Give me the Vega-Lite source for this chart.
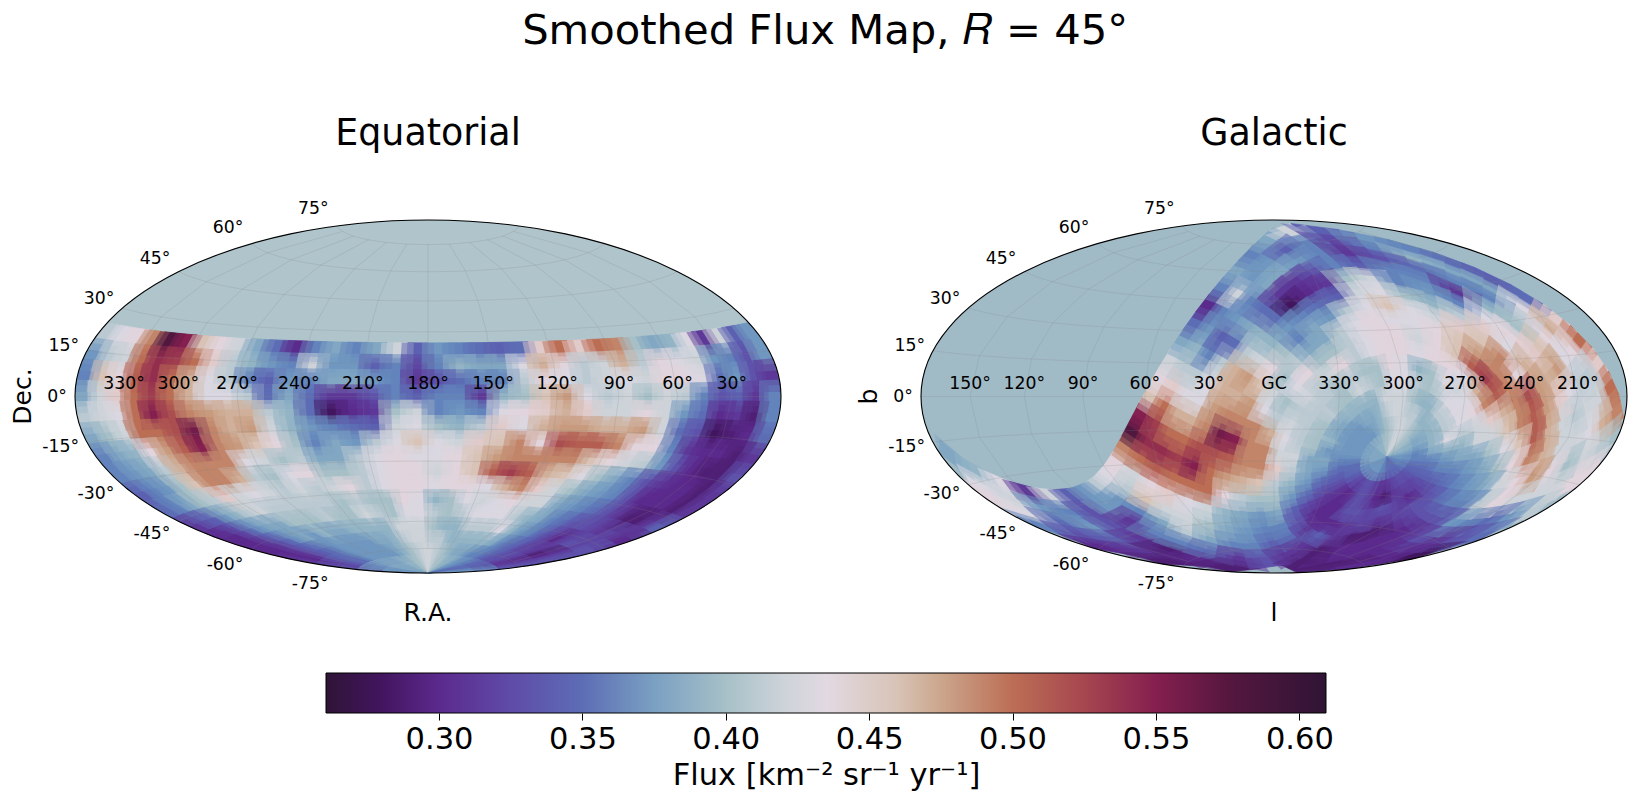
{"$schema":"https://vega.github.io/schema/vega-lite/v6.json","autosize":{"type":"none"},"padding":{"left":75,"top":220,"right":1561,"bottom":586},"config":{"font":"DejaVu Sans","view":{"stroke":null},"title":{"font":"DejaVu Sans","fontWeight":"normal","color":"#000"}},"title":{"text":"Smoothed Flux Map, 𝑅 = 45°","fontSize":41.7,"anchor":"middle","offset":63,"dx":5},
"datasets":{"frame":[{"lon":0,"lat":0}],"par":[{"lat":75},{"lat":60},{"lat":45},{"lat":30},{"lat":15},{"lat":0},{"lat":-15},{"lat":-30},{"lat":-45},{"lat":-60},{"lat":-75}],"mer":[{"lon":-150},{"lon":-120},{"lon":-90},{"lon":-60},{"lon":-30},{"lon":0},{"lon":30},{"lon":60},{"lon":90},{"lon":120},{"lon":150}],
"latlab":[{"lat":75,"label":"75°"},{"lat":60,"label":"60°"},{"lat":45,"label":"45°"},{"lat":30,"label":"30°"},{"lat":15,"label":"15°"},{"lat":0,"label":"0°"},{"lat":-15,"label":"-15°"},{"lat":-30,"label":"-30°"},{"lat":-45,"label":"-45°"},{"lat":-60,"label":"-60°"},{"lat":-75,"label":"-75°"}],
"raLab":[{"lam":150,"label":"330°"},{"lam":120,"label":"300°"},{"lam":90,"label":"270°"},{"lam":60,"label":"240°"},{"lam":30,"label":"210°"},{"lam":0,"label":"180°"},{"lam":-30,"label":"150°"},{"lam":-60,"label":"120°"},{"lam":-90,"label":"90°"},{"lam":-120,"label":"60°"},{"lam":-150,"label":"30°"}],
"lLab":[{"lam":150,"label":"150°"},{"lam":120,"label":"120°"},{"lam":90,"label":"90°"},{"lam":60,"label":"60°"},{"lam":30,"label":"30°"},{"lam":0,"label":"GC"},{"lam":-30,"label":"330°"},{"lam":-60,"label":"300°"},{"lam":-90,"label":"270°"},{"lam":-120,"label":"240°"},{"lam":-150,"label":"210°"}],
"cells":[
{"ra":355,"dec":21,"flux":0.41},{"ra":345,"dec":21,"flux":0.43},{"ra":335,"dec":21,"flux":0.44},{"ra":325,"dec":21,"flux":0.49},{"ra":315,"dec":21,"flux":0.58},{"ra":305,"dec":21,"flux":0.55},{"ra":295,"dec":21,"flux":0.46},{"ra":285,"dec":21,"flux":0.44},{"ra":275,"dec":21,"flux":0.42},{"ra":265,"dec":21,"flux":0.38},{"ra":255,"dec":21,"flux":0.35},{"ra":245,"dec":21,"flux":0.3},{"ra":235,"dec":21,"flux":0.36},{"ra":225,"dec":21,"flux":0.38},{"ra":215,"dec":21,"flux":0.36},{"ra":205,"dec":21,"flux":0.38},{"ra":195,"dec":21,"flux":0.42},{"ra":185,"dec":21,"flux":0.34},{"ra":175,"dec":21,"flux":0.37},{"ra":165,"dec":21,"flux":0.36},{"ra":155,"dec":21,"flux":0.35},{"ra":145,"dec":21,"flux":0.34},{"ra":135,"dec":21,"flux":0.35},{"ra":125,"dec":21,"flux":0.45},{"ra":115,"dec":21,"flux":0.5},{"ra":105,"dec":21,"flux":0.45},{"ra":95,"dec":21,"flux":0.5},{"ra":85,"dec":21,"flux":0.49},{"ra":75,"dec":21,"flux":0.4},{"ra":65,"dec":21,"flux":0.38},{"ra":55,"dec":21,"flux":0.39},{"ra":45,"dec":21,"flux":0.43},{"ra":35,"dec":21,"flux":0.31},{"ra":25,"dec":21,"flux":0.42},{"ra":15,"dec":21,"flux":0.34},{"ra":5,"dec":21,"flux":0.37},
{"ra":355,"dec":14,"flux":0.37},{"ra":345,"dec":14,"flux":0.41},{"ra":335,"dec":14,"flux":0.42},{"ra":325,"dec":14,"flux":0.5},{"ra":315,"dec":14,"flux":0.54},{"ra":305,"dec":14,"flux":0.53},{"ra":295,"dec":14,"flux":0.5},{"ra":285,"dec":14,"flux":0.45},{"ra":275,"dec":14,"flux":0.41},{"ra":265,"dec":14,"flux":0.39},{"ra":255,"dec":14,"flux":0.37},{"ra":245,"dec":14,"flux":0.36},{"ra":235,"dec":14,"flux":0.42},{"ra":225,"dec":14,"flux":0.37},{"ra":215,"dec":14,"flux":0.37},{"ra":205,"dec":14,"flux":0.34},{"ra":195,"dec":14,"flux":0.36},{"ra":185,"dec":14,"flux":0.32},{"ra":175,"dec":14,"flux":0.36},{"ra":165,"dec":14,"flux":0.39},{"ra":155,"dec":14,"flux":0.38},{"ra":145,"dec":14,"flux":0.38},{"ra":135,"dec":14,"flux":0.43},{"ra":125,"dec":14,"flux":0.47},{"ra":115,"dec":14,"flux":0.44},{"ra":105,"dec":14,"flux":0.41},{"ra":95,"dec":14,"flux":0.42},{"ra":85,"dec":14,"flux":0.47},{"ra":75,"dec":14,"flux":0.41},{"ra":65,"dec":14,"flux":0.44},{"ra":55,"dec":14,"flux":0.43},{"ra":45,"dec":14,"flux":0.42},{"ra":35,"dec":14,"flux":0.37},{"ra":25,"dec":14,"flux":0.36},{"ra":15,"dec":14,"flux":0.33},{"ra":5,"dec":14,"flux":0.37},
{"ra":355,"dec":7,"flux":0.36},{"ra":345,"dec":7,"flux":0.46},{"ra":335,"dec":7,"flux":0.44},{"ra":325,"dec":7,"flux":0.51},{"ra":315,"dec":7,"flux":0.54},{"ra":305,"dec":7,"flux":0.5},{"ra":295,"dec":7,"flux":0.47},{"ra":285,"dec":7,"flux":0.43},{"ra":275,"dec":7,"flux":0.41},{"ra":265,"dec":7,"flux":0.36},{"ra":255,"dec":7,"flux":0.34},{"ra":245,"dec":7,"flux":0.37},{"ra":235,"dec":7,"flux":0.36},{"ra":225,"dec":7,"flux":0.38},{"ra":215,"dec":7,"flux":0.38},{"ra":205,"dec":7,"flux":0.37},{"ra":195,"dec":7,"flux":0.36},{"ra":185,"dec":7,"flux":0.31},{"ra":175,"dec":7,"flux":0.33},{"ra":165,"dec":7,"flux":0.35},{"ra":155,"dec":7,"flux":0.36},{"ra":145,"dec":7,"flux":0.36},{"ra":135,"dec":7,"flux":0.41},{"ra":125,"dec":7,"flux":0.44},{"ra":115,"dec":7,"flux":0.43},{"ra":105,"dec":7,"flux":0.41},{"ra":95,"dec":7,"flux":0.42},{"ra":85,"dec":7,"flux":0.43},{"ra":75,"dec":7,"flux":0.42},{"ra":65,"dec":7,"flux":0.44},{"ra":55,"dec":7,"flux":0.44},{"ra":45,"dec":7,"flux":0.43},{"ra":35,"dec":7,"flux":0.35},{"ra":25,"dec":7,"flux":0.37},{"ra":15,"dec":7,"flux":0.33},{"ra":5,"dec":7,"flux":0.31},
{"ra":355,"dec":0,"flux":0.38},{"ra":345,"dec":0,"flux":0.42},{"ra":335,"dec":0,"flux":0.45},{"ra":325,"dec":0,"flux":0.5},{"ra":315,"dec":0,"flux":0.53},{"ra":305,"dec":0,"flux":0.5},{"ra":295,"dec":0,"flux":0.47},{"ra":285,"dec":0,"flux":0.43},{"ra":275,"dec":0,"flux":0.43},{"ra":265,"dec":0,"flux":0.41},{"ra":255,"dec":0,"flux":0.35},{"ra":245,"dec":0,"flux":0.38},{"ra":235,"dec":0,"flux":0.35},{"ra":225,"dec":0,"flux":0.31},{"ra":215,"dec":0,"flux":0.31},{"ra":205,"dec":0,"flux":0.33},{"ra":195,"dec":0,"flux":0.36},{"ra":185,"dec":0,"flux":0.34},{"ra":175,"dec":0,"flux":0.36},{"ra":165,"dec":0,"flux":0.36},{"ra":155,"dec":0,"flux":0.31},{"ra":145,"dec":0,"flux":0.39},{"ra":135,"dec":0,"flux":0.4},{"ra":125,"dec":0,"flux":0.46},{"ra":115,"dec":0,"flux":0.48},{"ra":105,"dec":0,"flux":0.43},{"ra":95,"dec":0,"flux":0.41},{"ra":85,"dec":0,"flux":0.42},{"ra":75,"dec":0,"flux":0.4},{"ra":65,"dec":0,"flux":0.42},{"ra":55,"dec":0,"flux":0.41},{"ra":45,"dec":0,"flux":0.36},{"ra":35,"dec":0,"flux":0.33},{"ra":25,"dec":0,"flux":0.34},{"ra":15,"dec":0,"flux":0.31},{"ra":5,"dec":0,"flux":0.36},
{"ra":355,"dec":-7,"flux":0.41},{"ra":345,"dec":-7,"flux":0.42},{"ra":335,"dec":-7,"flux":0.43},{"ra":325,"dec":-7,"flux":0.5},{"ra":315,"dec":-7,"flux":0.55},{"ra":305,"dec":-7,"flux":0.52},{"ra":295,"dec":-7,"flux":0.49},{"ra":285,"dec":-7,"flux":0.48},{"ra":275,"dec":-7,"flux":0.47},{"ra":265,"dec":-7,"flux":0.47},{"ra":255,"dec":-7,"flux":0.41},{"ra":245,"dec":-7,"flux":0.39},{"ra":235,"dec":-7,"flux":0.35},{"ra":225,"dec":-7,"flux":0.28},{"ra":215,"dec":-7,"flux":0.3},{"ra":205,"dec":-7,"flux":0.31},{"ra":195,"dec":-7,"flux":0.4},{"ra":185,"dec":-7,"flux":0.42},{"ra":175,"dec":-7,"flux":0.36},{"ra":165,"dec":-7,"flux":0.37},{"ra":155,"dec":-7,"flux":0.36},{"ra":145,"dec":-7,"flux":0.43},{"ra":135,"dec":-7,"flux":0.44},{"ra":125,"dec":-7,"flux":0.45},{"ra":115,"dec":-7,"flux":0.47},{"ra":105,"dec":-7,"flux":0.45},{"ra":95,"dec":-7,"flux":0.42},{"ra":85,"dec":-7,"flux":0.42},{"ra":75,"dec":-7,"flux":0.44},{"ra":65,"dec":-7,"flux":0.42},{"ra":55,"dec":-7,"flux":0.37},{"ra":45,"dec":-7,"flux":0.35},{"ra":35,"dec":-7,"flux":0.3},{"ra":25,"dec":-7,"flux":0.31},{"ra":15,"dec":-7,"flux":0.29},{"ra":5,"dec":-7,"flux":0.36},
{"ra":355,"dec":-14,"flux":0.38},{"ra":345,"dec":-14,"flux":0.4},{"ra":335,"dec":-14,"flux":0.42},{"ra":325,"dec":-14,"flux":0.5},{"ra":315,"dec":-14,"flux":0.5},{"ra":305,"dec":-14,"flux":0.52},{"ra":295,"dec":-14,"flux":0.56},{"ra":285,"dec":-14,"flux":0.49},{"ra":275,"dec":-14,"flux":0.47},{"ra":265,"dec":-14,"flux":0.48},{"ra":255,"dec":-14,"flux":0.42},{"ra":245,"dec":-14,"flux":0.39},{"ra":235,"dec":-14,"flux":0.37},{"ra":225,"dec":-14,"flux":0.36},{"ra":215,"dec":-14,"flux":0.35},{"ra":205,"dec":-14,"flux":0.34},{"ra":195,"dec":-14,"flux":0.42},{"ra":185,"dec":-14,"flux":0.43},{"ra":175,"dec":-14,"flux":0.4},{"ra":165,"dec":-14,"flux":0.39},{"ra":155,"dec":-14,"flux":0.41},{"ra":145,"dec":-14,"flux":0.45},{"ra":135,"dec":-14,"flux":0.43},{"ra":125,"dec":-14,"flux":0.47},{"ra":115,"dec":-14,"flux":0.48},{"ra":105,"dec":-14,"flux":0.48},{"ra":95,"dec":-14,"flux":0.47},{"ra":85,"dec":-14,"flux":0.47},{"ra":75,"dec":-14,"flux":0.48},{"ra":65,"dec":-14,"flux":0.42},{"ra":55,"dec":-14,"flux":0.35},{"ra":45,"dec":-14,"flux":0.33},{"ra":35,"dec":-14,"flux":0.28},{"ra":25,"dec":-14,"flux":0.29},{"ra":15,"dec":-14,"flux":0.3},{"ra":5,"dec":-14,"flux":0.35},
{"ra":355,"dec":-21,"flux":0.36},{"ra":345,"dec":-21,"flux":0.38},{"ra":335,"dec":-21,"flux":0.39},{"ra":325,"dec":-21,"flux":0.44},{"ra":315,"dec":-21,"flux":0.48},{"ra":305,"dec":-21,"flux":0.51},{"ra":295,"dec":-21,"flux":0.55},{"ra":285,"dec":-21,"flux":0.49},{"ra":275,"dec":-21,"flux":0.48},{"ra":265,"dec":-21,"flux":0.46},{"ra":255,"dec":-21,"flux":0.44},{"ra":245,"dec":-21,"flux":0.4},{"ra":235,"dec":-21,"flux":0.36},{"ra":225,"dec":-21,"flux":0.38},{"ra":215,"dec":-21,"flux":0.37},{"ra":205,"dec":-21,"flux":0.41},{"ra":195,"dec":-21,"flux":0.43},{"ra":185,"dec":-21,"flux":0.46},{"ra":175,"dec":-21,"flux":0.43},{"ra":165,"dec":-21,"flux":0.42},{"ra":155,"dec":-21,"flux":0.45},{"ra":145,"dec":-21,"flux":0.46},{"ra":135,"dec":-21,"flux":0.49},{"ra":125,"dec":-21,"flux":0.44},{"ra":115,"dec":-21,"flux":0.52},{"ra":105,"dec":-21,"flux":0.51},{"ra":95,"dec":-21,"flux":0.51},{"ra":85,"dec":-21,"flux":0.49},{"ra":75,"dec":-21,"flux":0.44},{"ra":65,"dec":-21,"flux":0.44},{"ra":55,"dec":-21,"flux":0.36},{"ra":45,"dec":-21,"flux":0.31},{"ra":35,"dec":-21,"flux":0.3},{"ra":25,"dec":-21,"flux":0.3},{"ra":15,"dec":-21,"flux":0.29},{"ra":5,"dec":-21,"flux":0.31},
{"ra":355,"dec":-28,"flux":0.36},{"ra":345,"dec":-28,"flux":0.37},{"ra":335,"dec":-28,"flux":0.38},{"ra":325,"dec":-28,"flux":0.41},{"ra":315,"dec":-28,"flux":0.47},{"ra":305,"dec":-28,"flux":0.49},{"ra":295,"dec":-28,"flux":0.49},{"ra":285,"dec":-28,"flux":0.49},{"ra":275,"dec":-28,"flux":0.43},{"ra":265,"dec":-28,"flux":0.42},{"ra":255,"dec":-28,"flux":0.4},{"ra":245,"dec":-28,"flux":0.41},{"ra":235,"dec":-28,"flux":0.38},{"ra":225,"dec":-28,"flux":0.38},{"ra":215,"dec":-28,"flux":0.41},{"ra":205,"dec":-28,"flux":0.43},{"ra":195,"dec":-28,"flux":0.44},{"ra":185,"dec":-28,"flux":0.43},{"ra":175,"dec":-28,"flux":0.43},{"ra":165,"dec":-28,"flux":0.44},{"ra":155,"dec":-28,"flux":0.46},{"ra":145,"dec":-28,"flux":0.48},{"ra":135,"dec":-28,"flux":0.49},{"ra":125,"dec":-28,"flux":0.49},{"ra":115,"dec":-28,"flux":0.49},{"ra":105,"dec":-28,"flux":0.49},{"ra":95,"dec":-28,"flux":0.46},{"ra":85,"dec":-28,"flux":0.44},{"ra":75,"dec":-28,"flux":0.42},{"ra":65,"dec":-28,"flux":0.41},{"ra":55,"dec":-28,"flux":0.37},{"ra":45,"dec":-28,"flux":0.33},{"ra":35,"dec":-28,"flux":0.3},{"ra":25,"dec":-28,"flux":0.29},{"ra":15,"dec":-28,"flux":0.29},{"ra":5,"dec":-28,"flux":0.33},
{"ra":355,"dec":-35,"flux":0.34},{"ra":345,"dec":-35,"flux":0.36},{"ra":335,"dec":-35,"flux":0.37},{"ra":325,"dec":-35,"flux":0.4},{"ra":315,"dec":-35,"flux":0.46},{"ra":305,"dec":-35,"flux":0.49},{"ra":295,"dec":-35,"flux":0.49},{"ra":285,"dec":-35,"flux":0.47},{"ra":275,"dec":-35,"flux":0.41},{"ra":265,"dec":-35,"flux":0.4},{"ra":255,"dec":-35,"flux":0.43},{"ra":245,"dec":-35,"flux":0.44},{"ra":235,"dec":-35,"flux":0.4},{"ra":225,"dec":-35,"flux":0.4},{"ra":215,"dec":-35,"flux":0.41},{"ra":205,"dec":-35,"flux":0.43},{"ra":195,"dec":-35,"flux":0.44},{"ra":185,"dec":-35,"flux":0.44},{"ra":175,"dec":-35,"flux":0.42},{"ra":165,"dec":-35,"flux":0.44},{"ra":155,"dec":-35,"flux":0.46},{"ra":145,"dec":-35,"flux":0.51},{"ra":135,"dec":-35,"flux":0.53},{"ra":125,"dec":-35,"flux":0.51},{"ra":115,"dec":-35,"flux":0.47},{"ra":105,"dec":-35,"flux":0.46},{"ra":95,"dec":-35,"flux":0.43},{"ra":85,"dec":-35,"flux":0.4},{"ra":75,"dec":-35,"flux":0.38},{"ra":65,"dec":-35,"flux":0.36},{"ra":55,"dec":-35,"flux":0.33},{"ra":45,"dec":-35,"flux":0.31},{"ra":35,"dec":-35,"flux":0.3},{"ra":25,"dec":-35,"flux":0.3},{"ra":15,"dec":-35,"flux":0.29},{"ra":5,"dec":-35,"flux":0.31},
{"ra":355,"dec":-42,"flux":0.35},{"ra":345,"dec":-42,"flux":0.36},{"ra":335,"dec":-42,"flux":0.38},{"ra":325,"dec":-42,"flux":0.4},{"ra":315,"dec":-42,"flux":0.41},{"ra":305,"dec":-42,"flux":0.45},{"ra":295,"dec":-42,"flux":0.42},{"ra":285,"dec":-42,"flux":0.43},{"ra":275,"dec":-42,"flux":0.42},{"ra":265,"dec":-42,"flux":0.41},{"ra":255,"dec":-42,"flux":0.42},{"ra":245,"dec":-42,"flux":0.41},{"ra":235,"dec":-42,"flux":0.42},{"ra":225,"dec":-42,"flux":0.44},{"ra":215,"dec":-42,"flux":0.41},{"ra":205,"dec":-42,"flux":0.43},{"ra":195,"dec":-42,"flux":0.44},{"ra":185,"dec":-42,"flux":0.44},{"ra":175,"dec":-42,"flux":0.43},{"ra":165,"dec":-42,"flux":0.44},{"ra":155,"dec":-42,"flux":0.44},{"ra":145,"dec":-42,"flux":0.43},{"ra":135,"dec":-42,"flux":0.47},{"ra":125,"dec":-42,"flux":0.49},{"ra":115,"dec":-42,"flux":0.45},{"ra":105,"dec":-42,"flux":0.42},{"ra":95,"dec":-42,"flux":0.4},{"ra":85,"dec":-42,"flux":0.38},{"ra":75,"dec":-42,"flux":0.37},{"ra":65,"dec":-42,"flux":0.36},{"ra":55,"dec":-42,"flux":0.33},{"ra":45,"dec":-42,"flux":0.3},{"ra":35,"dec":-42,"flux":0.3},{"ra":25,"dec":-42,"flux":0.3},{"ra":15,"dec":-42,"flux":0.29},{"ra":5,"dec":-42,"flux":0.31},
{"ra":355,"dec":-49,"flux":0.31},{"ra":345,"dec":-49,"flux":0.33},{"ra":335,"dec":-49,"flux":0.34},{"ra":325,"dec":-49,"flux":0.37},{"ra":315,"dec":-49,"flux":0.39},{"ra":305,"dec":-49,"flux":0.41},{"ra":295,"dec":-49,"flux":0.42},{"ra":285,"dec":-49,"flux":0.41},{"ra":275,"dec":-49,"flux":0.41},{"ra":265,"dec":-49,"flux":0.41},{"ra":255,"dec":-49,"flux":0.41},{"ra":245,"dec":-49,"flux":0.41},{"ra":235,"dec":-49,"flux":0.4},{"ra":225,"dec":-49,"flux":0.41},{"ra":215,"dec":-49,"flux":0.4},{"ra":205,"dec":-49,"flux":0.4},{"ra":195,"dec":-49,"flux":0.44},{"ra":185,"dec":-49,"flux":0.43},{"ra":175,"dec":-49,"flux":0.39},{"ra":165,"dec":-49,"flux":0.4},{"ra":155,"dec":-49,"flux":0.43},{"ra":145,"dec":-49,"flux":0.42},{"ra":135,"dec":-49,"flux":0.43},{"ra":125,"dec":-49,"flux":0.44},{"ra":115,"dec":-49,"flux":0.42},{"ra":105,"dec":-49,"flux":0.42},{"ra":95,"dec":-49,"flux":0.38},{"ra":85,"dec":-49,"flux":0.37},{"ra":75,"dec":-49,"flux":0.36},{"ra":65,"dec":-49,"flux":0.35},{"ra":55,"dec":-49,"flux":0.33},{"ra":45,"dec":-49,"flux":0.31},{"ra":35,"dec":-49,"flux":0.29},{"ra":25,"dec":-49,"flux":0.29},{"ra":15,"dec":-49,"flux":0.31},{"ra":5,"dec":-49,"flux":0.34},
{"ra":355,"dec":-56,"flux":0.3},{"ra":345,"dec":-56,"flux":0.3},{"ra":335,"dec":-56,"flux":0.32},{"ra":325,"dec":-56,"flux":0.35},{"ra":315,"dec":-56,"flux":0.37},{"ra":305,"dec":-56,"flux":0.38},{"ra":295,"dec":-56,"flux":0.38},{"ra":285,"dec":-56,"flux":0.4},{"ra":275,"dec":-56,"flux":0.4},{"ra":265,"dec":-56,"flux":0.4},{"ra":255,"dec":-56,"flux":0.41},{"ra":245,"dec":-56,"flux":0.4},{"ra":235,"dec":-56,"flux":0.4},{"ra":225,"dec":-56,"flux":0.42},{"ra":215,"dec":-56,"flux":0.41},{"ra":205,"dec":-56,"flux":0.4},{"ra":195,"dec":-56,"flux":0.43},{"ra":185,"dec":-56,"flux":0.43},{"ra":175,"dec":-56,"flux":0.41},{"ra":165,"dec":-56,"flux":0.4},{"ra":155,"dec":-56,"flux":0.41},{"ra":145,"dec":-56,"flux":0.43},{"ra":135,"dec":-56,"flux":0.43},{"ra":125,"dec":-56,"flux":0.43},{"ra":115,"dec":-56,"flux":0.41},{"ra":105,"dec":-56,"flux":0.39},{"ra":95,"dec":-56,"flux":0.38},{"ra":85,"dec":-56,"flux":0.36},{"ra":75,"dec":-56,"flux":0.35},{"ra":65,"dec":-56,"flux":0.33},{"ra":55,"dec":-56,"flux":0.33},{"ra":45,"dec":-56,"flux":0.32},{"ra":35,"dec":-56,"flux":0.31},{"ra":25,"dec":-56,"flux":0.32},{"ra":15,"dec":-56,"flux":0.31},{"ra":5,"dec":-56,"flux":0.3},
{"ra":355,"dec":-63,"flux":0.3},{"ra":345,"dec":-63,"flux":0.3},{"ra":335,"dec":-63,"flux":0.31},{"ra":325,"dec":-63,"flux":0.33},{"ra":315,"dec":-63,"flux":0.35},{"ra":305,"dec":-63,"flux":0.37},{"ra":295,"dec":-63,"flux":0.38},{"ra":285,"dec":-63,"flux":0.37},{"ra":275,"dec":-63,"flux":0.39},{"ra":265,"dec":-63,"flux":0.38},{"ra":255,"dec":-63,"flux":0.38},{"ra":245,"dec":-63,"flux":0.39},{"ra":235,"dec":-63,"flux":0.39},{"ra":225,"dec":-63,"flux":0.39},{"ra":215,"dec":-63,"flux":0.39},{"ra":205,"dec":-63,"flux":0.42},{"ra":195,"dec":-63,"flux":0.42},{"ra":185,"dec":-63,"flux":0.42},{"ra":175,"dec":-63,"flux":0.4},{"ra":165,"dec":-63,"flux":0.39},{"ra":155,"dec":-63,"flux":0.39},{"ra":145,"dec":-63,"flux":0.41},{"ra":135,"dec":-63,"flux":0.41},{"ra":125,"dec":-63,"flux":0.41},{"ra":115,"dec":-63,"flux":0.43},{"ra":105,"dec":-63,"flux":0.39},{"ra":95,"dec":-63,"flux":0.37},{"ra":85,"dec":-63,"flux":0.36},{"ra":75,"dec":-63,"flux":0.34},{"ra":65,"dec":-63,"flux":0.32},{"ra":55,"dec":-63,"flux":0.3},{"ra":45,"dec":-63,"flux":0.32},{"ra":35,"dec":-63,"flux":0.33},{"ra":25,"dec":-63,"flux":0.32},{"ra":15,"dec":-63,"flux":0.33},{"ra":5,"dec":-63,"flux":0.33},
{"ra":355,"dec":-70,"flux":0.31},{"ra":345,"dec":-70,"flux":0.3},{"ra":335,"dec":-70,"flux":0.31},{"ra":325,"dec":-70,"flux":0.33},{"ra":315,"dec":-70,"flux":0.34},{"ra":305,"dec":-70,"flux":0.35},{"ra":295,"dec":-70,"flux":0.36},{"ra":285,"dec":-70,"flux":0.37},{"ra":275,"dec":-70,"flux":0.37},{"ra":265,"dec":-70,"flux":0.37},{"ra":255,"dec":-70,"flux":0.37},{"ra":245,"dec":-70,"flux":0.37},{"ra":235,"dec":-70,"flux":0.38},{"ra":225,"dec":-70,"flux":0.38},{"ra":215,"dec":-70,"flux":0.39},{"ra":205,"dec":-70,"flux":0.41},{"ra":195,"dec":-70,"flux":0.42},{"ra":185,"dec":-70,"flux":0.42},{"ra":175,"dec":-70,"flux":0.41},{"ra":165,"dec":-70,"flux":0.41},{"ra":155,"dec":-70,"flux":0.39},{"ra":145,"dec":-70,"flux":0.39},{"ra":135,"dec":-70,"flux":0.39},{"ra":125,"dec":-70,"flux":0.39},{"ra":115,"dec":-70,"flux":0.39},{"ra":105,"dec":-70,"flux":0.38},{"ra":95,"dec":-70,"flux":0.36},{"ra":85,"dec":-70,"flux":0.35},{"ra":75,"dec":-70,"flux":0.34},{"ra":65,"dec":-70,"flux":0.32},{"ra":55,"dec":-70,"flux":0.32},{"ra":45,"dec":-70,"flux":0.31},{"ra":35,"dec":-70,"flux":0.29},{"ra":25,"dec":-70,"flux":0.3},{"ra":15,"dec":-70,"flux":0.32},{"ra":5,"dec":-70,"flux":0.33},
{"ra":355,"dec":-77,"flux":0.33},{"ra":345,"dec":-77,"flux":0.32},{"ra":335,"dec":-77,"flux":0.33},{"ra":325,"dec":-77,"flux":0.34},{"ra":315,"dec":-77,"flux":0.35},{"ra":305,"dec":-77,"flux":0.35},{"ra":295,"dec":-77,"flux":0.36},{"ra":285,"dec":-77,"flux":0.37},{"ra":275,"dec":-77,"flux":0.37},{"ra":265,"dec":-77,"flux":0.37},{"ra":255,"dec":-77,"flux":0.37},{"ra":245,"dec":-77,"flux":0.37},{"ra":235,"dec":-77,"flux":0.37},{"ra":225,"dec":-77,"flux":0.38},{"ra":215,"dec":-77,"flux":0.39},{"ra":205,"dec":-77,"flux":0.4},{"ra":195,"dec":-77,"flux":0.41},{"ra":185,"dec":-77,"flux":0.42},{"ra":175,"dec":-77,"flux":0.42},{"ra":165,"dec":-77,"flux":0.41},{"ra":155,"dec":-77,"flux":0.4},{"ra":145,"dec":-77,"flux":0.39},{"ra":135,"dec":-77,"flux":0.38},{"ra":125,"dec":-77,"flux":0.38},{"ra":115,"dec":-77,"flux":0.37},{"ra":105,"dec":-77,"flux":0.36},{"ra":95,"dec":-77,"flux":0.36},{"ra":85,"dec":-77,"flux":0.35},{"ra":75,"dec":-77,"flux":0.34},{"ra":65,"dec":-77,"flux":0.33},{"ra":55,"dec":-77,"flux":0.33},{"ra":45,"dec":-77,"flux":0.32},{"ra":35,"dec":-77,"flux":0.31},{"ra":25,"dec":-77,"flux":0.31},{"ra":15,"dec":-77,"flux":0.32},{"ra":5,"dec":-77,"flux":0.33},
{"ra":355,"dec":-84,"flux":0.37},{"ra":345,"dec":-84,"flux":0.37},{"ra":335,"dec":-84,"flux":0.37},{"ra":325,"dec":-84,"flux":0.37},{"ra":315,"dec":-84,"flux":0.37},{"ra":305,"dec":-84,"flux":0.38},{"ra":295,"dec":-84,"flux":0.38},{"ra":285,"dec":-84,"flux":0.38},{"ra":275,"dec":-84,"flux":0.38},{"ra":265,"dec":-84,"flux":0.38},{"ra":255,"dec":-84,"flux":0.38},{"ra":245,"dec":-84,"flux":0.39},{"ra":235,"dec":-84,"flux":0.39},{"ra":225,"dec":-84,"flux":0.39},{"ra":215,"dec":-84,"flux":0.4},{"ra":205,"dec":-84,"flux":0.4},{"ra":195,"dec":-84,"flux":0.41},{"ra":185,"dec":-84,"flux":0.42},{"ra":175,"dec":-84,"flux":0.42},{"ra":165,"dec":-84,"flux":0.41},{"ra":155,"dec":-84,"flux":0.4},{"ra":145,"dec":-84,"flux":0.4},{"ra":135,"dec":-84,"flux":0.39},{"ra":125,"dec":-84,"flux":0.39},{"ra":115,"dec":-84,"flux":0.38},{"ra":105,"dec":-84,"flux":0.37},{"ra":95,"dec":-84,"flux":0.37},{"ra":85,"dec":-84,"flux":0.36},{"ra":75,"dec":-84,"flux":0.36},{"ra":65,"dec":-84,"flux":0.35},{"ra":55,"dec":-84,"flux":0.35},{"ra":45,"dec":-84,"flux":0.35},{"ra":35,"dec":-84,"flux":0.35},{"ra":25,"dec":-84,"flux":0.36},{"ra":15,"dec":-84,"flux":0.36},{"ra":5,"dec":-84,"flux":0.37}]},
"spacing":453,"bounds":"flush","vconcat":[{"hconcat":[
{"width":706,"height":353,"title":{"text":"Equatorial","fontSize":36.4,"offset":48,"anchor":"middle"},"projection":{"type":"identity","reflectY":true,"scale":124.8,"translate":[353,176.5]},"layer":[
{"data":{"name":"frame"},"mark":{"type":"point","clip":false,"shape":"M -1 0 A 1 0.5 0 1 1 1 0 A 1 0.5 0 1 1 -1 0 Z","size":498436,"filled":true,"fill":"#afc4cb","stroke":null,"opacity":1},"encoding":{"longitude":{"field":"lon","type":"quantitative"},"latitude":{"field":"lat","type":"quantitative"}}},
{"data":{"name":"cells"},"transform":[{"calculate":"[0,1,2,3]","as":"v"},{"flatten":["v"]},{"calculate":"datum.ra+(datum.v>1?5:-5)","as":"vr"},{"calculate":"(datum.v==1||datum.v==2)?(datum.dec==21?24.8:datum.dec+3.6):(datum.dec==-84?-90:datum.dec-3.6)","as":"vd"},{"calculate":"(datum.vr-180)*PI/180","as":"lam"},{"calculate":"datum.vd*PI/180","as":"phi"},{"calculate":"sqrt(1+cos(datum.phi)*cos(datum.lam/2))","as":"D"},{"calculate":"-2*SQRT2*cos(datum.phi)*sin(datum.lam/2)/datum.D","as":"X"},{"calculate":"SQRT2*sin(datum.phi)/datum.D","as":"Y"},{"aggregate":[{"op":"values","field":"X","as":"p"}],"groupby":["ra","dec","flux"]},{"calculate":"{type:'Polygon',coordinates:[[[datum.p[0].X,datum.p[0].Y],[datum.p[1].X,datum.p[1].Y],[datum.p[2].X,datum.p[2].Y],[datum.p[3].X,datum.p[3].Y],[datum.p[0].X,datum.p[0].Y]]]}","as":"geom"}],"mark":{"type":"geoshape","strokeWidth":0.7,"clip":false},"encoding":{"shape":{"field":"geom","type":"geojson"},"fill":{"field":"flux","type":"quantitative","legend":null,"scale":{"type":"linear","clamp":true,"domain":[0.2606,0.28,0.3,0.325,0.35,0.375,0.4,0.42,0.435,0.46,0.475,0.5,0.525,0.55,0.575,0.6093],"range":["#2f1436","#42155f","#5b2a8d","#5f4ba8","#5d6db5","#7aa0c2","#a7c0c8","#cdd3d9","#e2d9e2","#d8c3b6","#cba68c","#bc6e55","#a6464f","#851f4f","#56173f","#2f1436"]}},"stroke":{"field":"flux","type":"quantitative","legend":null,"scale":{"type":"linear","clamp":true,"domain":[0.2606,0.28,0.3,0.325,0.35,0.375,0.4,0.42,0.435,0.46,0.475,0.5,0.525,0.55,0.575,0.6093],"range":["#2f1436","#42155f","#5b2a8d","#5f4ba8","#5d6db5","#7aa0c2","#a7c0c8","#cdd3d9","#e2d9e2","#d8c3b6","#cba68c","#bc6e55","#a6464f","#851f4f","#56173f","#2f1436"]}}}},
{"data":{"name":"cells"},"transform":[{"calculate":"[0,1,2,3]","as":"v"},{"flatten":["v"]},{"calculate":"clamp(datum.ra+(datum.v>1?8:-8),0,360)","as":"vr"},{"calculate":"(datum.v==1||datum.v==2)?min(24.8,datum.dec+5.5):max(-90,datum.dec-5.5)","as":"vd"},{"calculate":"(datum.vr-180)*PI/180","as":"lam"},{"calculate":"datum.vd*PI/180","as":"phi"},{"calculate":"sqrt(1+cos(datum.phi)*cos(datum.lam/2))","as":"D"},{"calculate":"-2*SQRT2*cos(datum.phi)*sin(datum.lam/2)/datum.D","as":"X"},{"calculate":"SQRT2*sin(datum.phi)/datum.D","as":"Y"},{"aggregate":[{"op":"values","field":"X","as":"p"}],"groupby":["ra","dec","flux"]},{"calculate":"{type:'Polygon',coordinates:[[[datum.p[0].X,datum.p[0].Y],[datum.p[1].X,datum.p[1].Y],[datum.p[2].X,datum.p[2].Y],[datum.p[3].X,datum.p[3].Y],[datum.p[0].X,datum.p[0].Y]]]}","as":"geom"}],"mark":{"type":"geoshape","strokeWidth":0,"opacity":0.5,"clip":false},"encoding":{"shape":{"field":"geom","type":"geojson"},"fill":{"field":"flux","type":"quantitative","legend":null}}},
{"data":{"name":"par"},"transform":[{"calculate":"[-180,-165,-150,-135,-120,-105,-90,-75,-60,-45,-30,-15,0,15,30,45,60,75,90,105,120,135,150,165,180]","as":"g"},{"flatten":["g"]},{"calculate":"datum.g*PI/180","as":"lam"},{"calculate":"datum.lat*PI/180","as":"phi"},{"calculate":"sqrt(1+cos(datum.phi)*cos(datum.lam/2))","as":"D"},{"calculate":"-2*SQRT2*cos(datum.phi)*sin(datum.lam/2)/datum.D","as":"X"},{"calculate":"SQRT2*sin(datum.phi)/datum.D","as":"Y"}],"mark":{"type":"line","stroke":"#808080","strokeWidth":1,"opacity":0.2,"clip":false},"encoding":{"longitude":{"field":"X","type":"quantitative"},"latitude":{"field":"Y","type":"quantitative"},"detail":{"field":"lat"}}},
{"data":{"name":"mer"},"transform":[{"calculate":"[-75,-60,-45,-30,-15,0,15,30,45,60,75]","as":"g"},{"flatten":["g"]},{"calculate":"datum.lon*PI/180","as":"lam"},{"calculate":"datum.g*PI/180","as":"phi"},{"calculate":"sqrt(1+cos(datum.phi)*cos(datum.lam/2))","as":"D"},{"calculate":"-2*SQRT2*cos(datum.phi)*sin(datum.lam/2)/datum.D","as":"X"},{"calculate":"SQRT2*sin(datum.phi)/datum.D","as":"Y"}],"mark":{"type":"line","stroke":"#808080","strokeWidth":1,"opacity":0.2,"clip":false},"encoding":{"longitude":{"field":"X","type":"quantitative"},"latitude":{"field":"Y","type":"quantitative"},"detail":{"field":"lon"}}},
{"data":{"name":"frame"},"mark":{"type":"point","clip":false,"shape":"M -1 0 A 1 0.5 0 1 1 1 0 A 1 0.5 0 1 1 -1 0 Z","size":498436,"filled":false,"stroke":"#000","strokeWidth":1.1,"opacity":1},"encoding":{"longitude":{"field":"lon","type":"quantitative"},"latitude":{"field":"lat","type":"quantitative"}}},
{"data":{"name":"raLab"},"transform":[{"calculate":"-2*SQRT2*sin(datum.lam*PI/360)/sqrt(1+cos(datum.lam*PI/360))","as":"X"},{"calculate":"0","as":"Y"}],"mark":{"type":"text","clip":false,"fontSize":17.3,"dy":-13,"color":"#000"},"encoding":{"longitude":{"field":"X","type":"quantitative"},"latitude":{"field":"Y","type":"quantitative"},"text":{"field":"label"}}},
{"data":{"name":"latlab"},"transform":[{"calculate":"-2*SQRT2*cos(datum.lat*PI/180)","as":"X"},{"calculate":"1.1*SQRT2*sin(datum.lat*PI/180)","as":"Y"}],"mark":{"type":"text","clip":false,"fontSize":17.3,"align":"right","dx":-8,"color":"#000"},"encoding":{"longitude":{"field":"X","type":"quantitative"},"latitude":{"field":"Y","type":"quantitative"},"text":{"field":"label"}}},
{"data":{"values":[{"X":0,"Y":-1.4142,"label":"R.A."}]},"mark":{"type":"text","clip":false,"fontSize":25,"dy":40,"color":"#000"},"encoding":{"longitude":{"field":"X","type":"quantitative"},"latitude":{"field":"Y","type":"quantitative"},"text":{"field":"label"}}},
{"data":{"values":[{"X":-2.8284,"Y":0,"label":"Dec."}]},"mark":{"type":"text","clip":false,"fontSize":25,"angle":270,"dy":-52,"color":"#000"},"encoding":{"longitude":{"field":"X","type":"quantitative"},"latitude":{"field":"Y","type":"quantitative"},"text":{"field":"label"}}}]},
{"width":706,"height":353,"title":{"text":"Galactic","fontSize":36.4,"offset":48,"anchor":"middle"},"projection":{"type":"identity","reflectY":true,"scale":124.8,"translate":[353,176.5]},"layer":[
{"data":{"name":"frame"},"mark":{"type":"point","clip":false,"shape":"M -1 0 A 1 0.5 0 1 1 1 0 A 1 0.5 0 1 1 -1 0 Z","size":498436,"filled":true,"fill":"#a0bac6","stroke":null,"opacity":1},"encoding":{"longitude":{"field":"lon","type":"quantitative"},"latitude":{"field":"lat","type":"quantitative"}}},
{"data":{"name":"cells"},"transform":[{"calculate":"[0,1,2,3]","as":"v"},{"flatten":["v"]},{"calculate":"datum.ra+(datum.v>1?5:-5)","as":"vr"},{"calculate":"(datum.v==1||datum.v==2)?(datum.dec==21?24.8:datum.dec+3.6):(datum.dec==-84?-90:datum.dec-3.6)","as":"vd"},{"calculate":"datum.vr*PI/180-3.36603","as":"a"},{"calculate":"datum.vd*PI/180","as":"d"},{"calculate":"datum.ra*PI/180-3.36603","as":"ca"},{"calculate":"datum.dec*PI/180","as":"cd"},{"calculate":"asin(0.45598*sin(datum.d)+0.88998*cos(datum.d)*cos(datum.a))","as":"phi"},{"calculate":"122.93192-atan2(cos(datum.d)*sin(datum.a),0.88998*sin(datum.d)-0.45598*cos(datum.d)*cos(datum.a))*180/PI","as":"lv"},{"calculate":"122.93192-atan2(cos(datum.cd)*sin(datum.ca),0.88998*sin(datum.cd)-0.45598*cos(datum.cd)*cos(datum.ca))*180/PI","as":"lc"},{"calculate":"clamp(((datum.lc+540)%360)-180+((datum.lv-datum.lc+900)%360)-180,-180,180)*PI/180","as":"lam"},{"calculate":"sqrt(1+cos(datum.phi)*cos(datum.lam/2))","as":"D"},{"calculate":"-2*SQRT2*cos(datum.phi)*sin(datum.lam/2)/datum.D","as":"X"},{"calculate":"SQRT2*sin(datum.phi)/datum.D","as":"Y"},{"aggregate":[{"op":"values","field":"X","as":"p"}],"groupby":["ra","dec","flux"]},{"calculate":"{type:'Polygon',coordinates:[[[datum.p[0].X,datum.p[0].Y],[datum.p[1].X,datum.p[1].Y],[datum.p[2].X,datum.p[2].Y],[datum.p[3].X,datum.p[3].Y],[datum.p[0].X,datum.p[0].Y]]]}","as":"geom"}],"mark":{"type":"geoshape","strokeWidth":0.7,"clip":false},"encoding":{"shape":{"field":"geom","type":"geojson"},"fill":{"field":"flux","type":"quantitative","legend":null},"stroke":{"field":"flux","type":"quantitative","legend":null}}},
{"data":{"name":"cells"},"transform":[{"calculate":"[0,1,2,3]","as":"v"},{"flatten":["v"]},{"calculate":"datum.ra+(datum.v>1?8:-8)","as":"vr"},{"calculate":"(datum.v==1||datum.v==2)?min(24.8,datum.dec+5.5):max(-90,datum.dec-5.5)","as":"vd"},{"calculate":"datum.vr*PI/180-3.36603","as":"a"},{"calculate":"datum.vd*PI/180","as":"d"},{"calculate":"datum.ra*PI/180-3.36603","as":"ca"},{"calculate":"datum.dec*PI/180","as":"cd"},{"calculate":"asin(0.45598*sin(datum.d)+0.88998*cos(datum.d)*cos(datum.a))","as":"phi"},{"calculate":"122.93192-atan2(cos(datum.d)*sin(datum.a),0.88998*sin(datum.d)-0.45598*cos(datum.d)*cos(datum.a))*180/PI","as":"lv"},{"calculate":"122.93192-atan2(cos(datum.cd)*sin(datum.ca),0.88998*sin(datum.cd)-0.45598*cos(datum.cd)*cos(datum.ca))*180/PI","as":"lc"},{"calculate":"clamp(((datum.lc+540)%360)-180+((datum.lv-datum.lc+900)%360)-180,-180,180)*PI/180","as":"lam"},{"calculate":"sqrt(1+cos(datum.phi)*cos(datum.lam/2))","as":"D"},{"calculate":"-2*SQRT2*cos(datum.phi)*sin(datum.lam/2)/datum.D","as":"X"},{"calculate":"SQRT2*sin(datum.phi)/datum.D","as":"Y"},{"aggregate":[{"op":"values","field":"X","as":"p"}],"groupby":["ra","dec","flux"]},{"calculate":"{type:'Polygon',coordinates:[[[datum.p[0].X,datum.p[0].Y],[datum.p[1].X,datum.p[1].Y],[datum.p[2].X,datum.p[2].Y],[datum.p[3].X,datum.p[3].Y],[datum.p[0].X,datum.p[0].Y]]]}","as":"geom"}],"mark":{"type":"geoshape","strokeWidth":0,"opacity":0.5,"clip":false},"encoding":{"shape":{"field":"geom","type":"geojson"},"fill":{"field":"flux","type":"quantitative","legend":null}}},
{"data":{"name":"par"},"transform":[{"calculate":"[-180,-165,-150,-135,-120,-105,-90,-75,-60,-45,-30,-15,0,15,30,45,60,75,90,105,120,135,150,165,180]","as":"g"},{"flatten":["g"]},{"calculate":"datum.g*PI/180","as":"lam"},{"calculate":"datum.lat*PI/180","as":"phi"},{"calculate":"sqrt(1+cos(datum.phi)*cos(datum.lam/2))","as":"D"},{"calculate":"-2*SQRT2*cos(datum.phi)*sin(datum.lam/2)/datum.D","as":"X"},{"calculate":"SQRT2*sin(datum.phi)/datum.D","as":"Y"}],"mark":{"type":"line","stroke":"#808080","strokeWidth":1,"opacity":0.2,"clip":false},"encoding":{"longitude":{"field":"X","type":"quantitative"},"latitude":{"field":"Y","type":"quantitative"},"detail":{"field":"lat"}}},
{"data":{"name":"mer"},"transform":[{"calculate":"[-75,-60,-45,-30,-15,0,15,30,45,60,75]","as":"g"},{"flatten":["g"]},{"calculate":"datum.lon*PI/180","as":"lam"},{"calculate":"datum.g*PI/180","as":"phi"},{"calculate":"sqrt(1+cos(datum.phi)*cos(datum.lam/2))","as":"D"},{"calculate":"-2*SQRT2*cos(datum.phi)*sin(datum.lam/2)/datum.D","as":"X"},{"calculate":"SQRT2*sin(datum.phi)/datum.D","as":"Y"}],"mark":{"type":"line","stroke":"#808080","strokeWidth":1,"opacity":0.2,"clip":false},"encoding":{"longitude":{"field":"X","type":"quantitative"},"latitude":{"field":"Y","type":"quantitative"},"detail":{"field":"lon"}}},
{"data":{"name":"frame"},"mark":{"type":"point","clip":false,"shape":"M -1 0 A 1 0.5 0 1 1 1 0 A 1 0.5 0 1 1 -1 0 Z","size":498436,"filled":false,"stroke":"#000","strokeWidth":1.1,"opacity":1},"encoding":{"longitude":{"field":"lon","type":"quantitative"},"latitude":{"field":"lat","type":"quantitative"}}},
{"data":{"name":"lLab"},"transform":[{"calculate":"-2*SQRT2*sin(datum.lam*PI/360)/sqrt(1+cos(datum.lam*PI/360))","as":"X"},{"calculate":"0","as":"Y"}],"mark":{"type":"text","clip":false,"fontSize":17.3,"dy":-13,"color":"#000"},"encoding":{"longitude":{"field":"X","type":"quantitative"},"latitude":{"field":"Y","type":"quantitative"},"text":{"field":"label"}}},
{"data":{"name":"latlab"},"transform":[{"calculate":"-2*SQRT2*cos(datum.lat*PI/180)","as":"X"},{"calculate":"1.1*SQRT2*sin(datum.lat*PI/180)","as":"Y"}],"mark":{"type":"text","clip":false,"fontSize":17.3,"align":"right","dx":-8,"color":"#000"},"encoding":{"longitude":{"field":"X","type":"quantitative"},"latitude":{"field":"Y","type":"quantitative"},"text":{"field":"label"}}},
{"data":{"values":[{"X":0,"Y":-1.4142,"label":"l"}]},"mark":{"type":"text","clip":false,"fontSize":25,"dy":40,"color":"#000"},"encoding":{"longitude":{"field":"X","type":"quantitative"},"latitude":{"field":"Y","type":"quantitative"},"text":{"field":"label"}}},
{"data":{"values":[{"X":-2.8284,"Y":0,"label":"b"}]},"mark":{"type":"text","clip":false,"fontSize":25,"angle":270,"dy":-52,"color":"#000"},"encoding":{"longitude":{"field":"X","type":"quantitative"},"latitude":{"field":"Y","type":"quantitative"},"text":{"field":"label"}}}]}
],"spacing":140,"bounds":"flush"},
{"width":1552,"height":40,"data":{"values":[{"a":0.2606,"b":0.6093}]},"mark":{"type":"rect","stroke":"#000","strokeWidth":1,"fill":{"gradient":"linear","x1":0,"y1":0,"x2":1,"y2":0,"stops":[{"offset":0,"color":"#2f1436"},{"offset":0.0556,"color":"#42155f"},{"offset":0.113,"color":"#5b2a8d"},{"offset":0.1847,"color":"#5f4ba8"},{"offset":0.2564,"color":"#5d6db5"},{"offset":0.3281,"color":"#7aa0c2"},{"offset":0.3998,"color":"#a7c0c8"},{"offset":0.4571,"color":"#cdd3d9"},{"offset":0.5001,"color":"#e2d9e2"},{"offset":0.5718,"color":"#d8c3b6"},{"offset":0.6148,"color":"#cba68c"},{"offset":0.6865,"color":"#bc6e55"},{"offset":0.7582,"color":"#a6464f"},{"offset":0.8299,"color":"#851f4f"},{"offset":0.9016,"color":"#56173f"},{"offset":1,"color":"#2f1436"}]}},"encoding":{"x":{"field":"a","type":"quantitative","scale":{"domain":[0.2606,0.6093],"range":[251,1251],"nice":false,"zero":false},"axis":{"values":[0.3,0.35,0.4,0.45,0.5,0.55,0.6],"format":".2f","labelFontSize":30.5,"titleFontSize":30.5,"title":"Flux [km⁻² sr⁻¹ yr⁻¹]","titleFontWeight":"normal","titleColor":"#000","labelColor":"#000","tickColor":"#000","tickSize":7,"tickWidth":1,"domain":false,"grid":false,"labelPadding":4,"titlePadding":6}},"x2":{"field":"b"}}}
]}
